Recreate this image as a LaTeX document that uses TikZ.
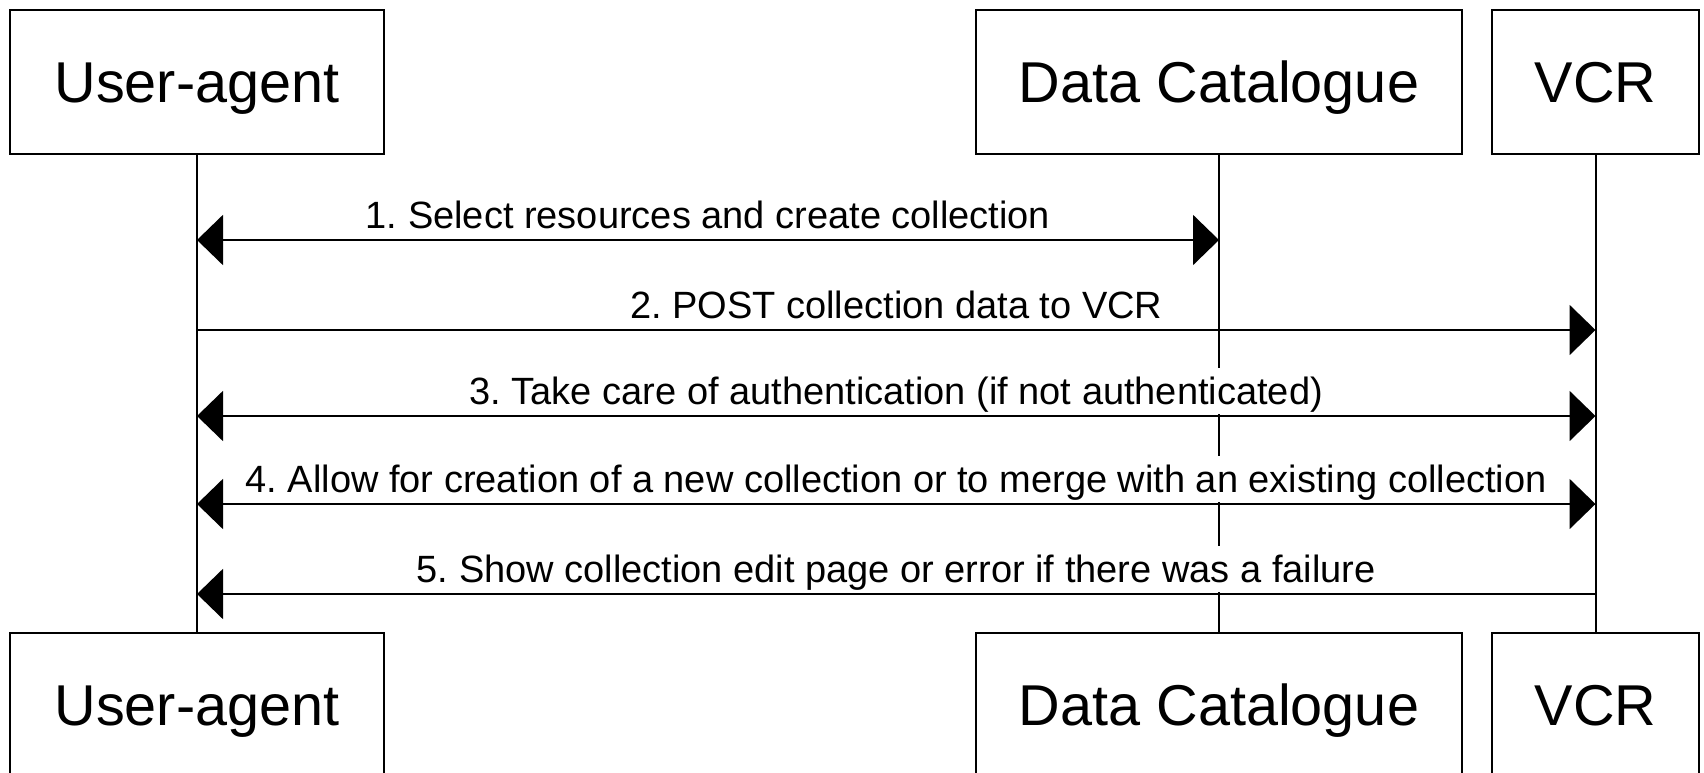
\documentclass[tikz,border=0pt]{standalone}
\usepackage{fontspec}
\setmainfont{Liberation Sans}
\usetikzlibrary{arrows.meta,calc}
\frenchspacing
\begin{document}
\begin{tikzpicture}[x=1pt,y=-1pt,
  actor/.style={draw, line width=2pt, minimum height=144pt, inner sep=0pt,
    font=\fontsize{57.6}{60}\selectfont, text height=41pt, text depth=0pt},
  msg/.style={fill=white, inner sep=2pt, font=\fontsize{38}{40}\selectfont,
    text height=34pt, text depth=8pt, anchor=base},
  life/.style={line width=2pt},
  tip/.tip={Triangle[length=26pt,width=50pt]},
  arr/.style={line width=2pt, -tip},
  darr/.style={line width=2pt, tip-tip},
  rarr/.style={line width=2pt, tip-}]
\useasboundingbox (0,0) rectangle (1704,773);
% actor boxes
\node[actor, minimum width=374pt] (ua1) at (197,82) {User-agent};
\node[actor, minimum width=486pt] (dc1) at (1219,82) {Data Catalogue};
\node[actor, minimum width=207pt] (vcr1) at (1595.5,82) {VCR};
\node[actor, minimum width=374pt] (ua2) at (197,705) {User-agent};
\node[actor, minimum width=486pt] (dc2) at (1219,705) {Data Catalogue};
\node[actor, minimum width=207pt] (vcr2) at (1595.5,705) {VCR};
% lifelines
\draw[life] (ua1.south) -- (ua2.north);
\draw[life] (dc1.south) -- (dc2.north);
\draw[life] (vcr1.south) -- (vcr2.north);
% message anchor points
\coordinate (u1) at (ua1.south |- 0,240);
\coordinate (d1) at (dc1.south |- 0,240);
\coordinate (u2) at (ua1.south |- 0,330);
\coordinate (v2) at (vcr1.south |- 0,330);
\coordinate (u3) at (ua1.south |- 0,416);
\coordinate (v3) at (vcr1.south |- 0,416);
\coordinate (u4) at (ua1.south |- 0,504);
\coordinate (v4) at (vcr1.south |- 0,504);
\coordinate (u5) at (ua1.south |- 0,594);
\coordinate (v5) at (vcr1.south |- 0,594);
% labels
\node[msg] (l1) at ($(u1)!0.5!(d1)+(0,-12)$) {1. Select resources and create collection};
\node[msg] (l2) at ($(u2)!0.5!(v2)+(0,-12)$) {2. POST collection data to VCR};
\node[msg] (l3) at ($(u3)!0.5!(v3)+(0,-12)$) {3. Take care of authentication (if not authenticated)};
\node[msg] (l4) at ($(u4)!0.5!(v4)+(0,-12)$) {4. Allow for creation of a new collection or to merge with an existing collection};
\node[msg] (l5) at ($(u5)!0.5!(v5)+(0,-12)$) {5. Show collection edit page or error if there was a failure};
% messages
\draw[darr] (u1) -- (d1);
\draw[arr] (u2) -- (v2);
\draw[darr] (u3) -- (v3);
\draw[darr] (u4) -- (v4);
\draw[rarr] (u5) -- (v5);
\end{tikzpicture}
\end{document}
